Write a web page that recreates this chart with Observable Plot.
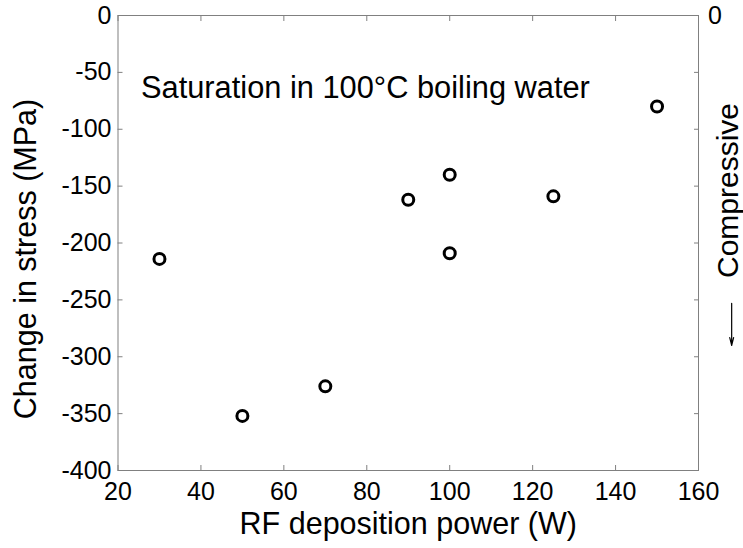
<!DOCTYPE html>
<html>
<head>
<meta charset="utf-8">
<script src="https://cdn.jsdelivr.net/npm/d3@7"></script>
<script src="https://cdn.jsdelivr.net/npm/@observablehq/plot@0.6"></script>
<style>
  html, body { margin: 0; padding: 0; background: white; }
  #chart svg { display: block; }
  #chart svg g[aria-label="x-axis tick label"],
  #chart svg g[aria-label="y-axis tick label"] { font-size: 25px; }
</style>
</head>
<body>
<div id="chart"></div>
<script>
// Data
const power = [30, 50, 70, 90, 100, 100, 125, 150];              // RF deposition power (W)
const stressChange = [-214, -352, -326, -162, -140, -209, -159, -80]; // change in stress (MPa)
const xTicks = [20, 40, 60, 80, 100, 120, 140, 160];
const yTicks = [-400, -350, -300, -250, -200, -150, -100, -50, 0];
const xLabel = "RF deposition power (W)";
const yLabel = "Change in stress (MPa)";
const annotation = "Saturation in 100°C boiling water";
const rightLabel = "Compressive";
// direction arrow (annotation, in data units)
const arrowX = [168];
const arrowY1 = [-253];
const arrowY2 = [-290];

const points = power.map((p, i) => ({power: p, stress: stressChange[i]}));
const font = "'Liberation Sans', Arial, Helvetica, sans-serif";
const gray = "#808080";
const tickFont = 25;

const chart = Plot.plot({
  width: 743,
  height: 548,
  marginLeft: 117.5,
  marginRight: 45,
  marginTop: 15,
  marginBottom: 78,
  x: {domain: [20, 160]},
  y: {domain: [-400, 0]},
  style: {fontFamily: font, fontSize: "25px", color: "black", background: "white"},
  marks: [
    Plot.frame({stroke: gray, strokeWidth: 1}),
    Plot.axisX(xTicks, {anchor: "bottom", tickSize: -5, tickPadding: 17, stroke: gray, fill: "black", fontSize: tickFont, label: null, tickFormat: d => String(d)}),
    Plot.axisX(xTicks, {anchor: "top", tickSize: -5, stroke: gray, fill: "black", label: null, tickFormat: () => ""}),
    Plot.axisY(yTicks, {anchor: "left", tickSize: -5, tickPadding: 11.5, stroke: gray, fill: "black", fontSize: tickFont, label: null, tickFormat: d => String(d)}),
    Plot.axisY(yTicks, {anchor: "right", tickSize: -5, tickPadding: 14.5, stroke: gray, fill: "black", fontSize: tickFont, label: null, tickFormat: d => d === 0 ? "0" : ""}),
    Plot.dot(points, {x: "power", y: "stress", r: 5.5, stroke: "black", strokeWidth: 3, fill: "none"}),
    Plot.text([annotation], {frameAnchor: "top-left", dx: 23, dy: 82, lineAnchor: "bottom", textAnchor: "start", fontSize: 30.8, fill: "black"}),
    Plot.text([xLabel], {frameAnchor: "bottom", dy: 63, lineAnchor: "bottom", textAnchor: "middle", fontSize: 30.5, fill: "black"}),
    Plot.text([yLabel], {frameAnchor: "left", dx: -82.5, dy: 16, rotate: -90, lineAnchor: "bottom", textAnchor: "middle", fontSize: 30.5, fill: "black"}),
    Plot.text([rightLabel], {frameAnchor: "right", dx: 39, dy: -52.5, rotate: -90, lineAnchor: "bottom", textAnchor: "middle", fontSize: 30, fill: "black"}),
    Plot.arrow(arrowX.map((x, i) => ({x, y1: arrowY1[i], y2: arrowY2[i]})), {x1: "x", x2: "x", y1: "y1", y2: "y2", stroke: "black", strokeWidth: 1.2, headLength: 10, headAngle: 28})
  ]
});
document.getElementById("chart").appendChild(chart);
</script>
</body>
</html>
